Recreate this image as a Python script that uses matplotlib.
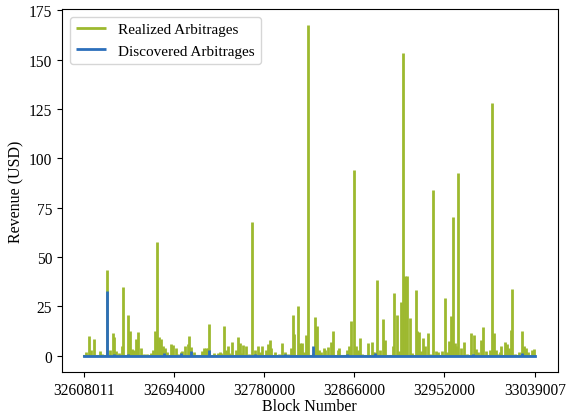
import numpy as np
import matplotlib
matplotlib.use("Agg")
from matplotlib import pyplot as plt

plt.rcParams['font.family'] = ['Liberation Serif', 'DejaVu Serif']

# Realized arbitrage revenue spikes (block, USD)
realized_blocks = [
    32608011, 32609900, 32612760, 32614660, 32617500, 32623200, 32625100, 32629560,
    32632030, 32635260, 32636490, 32638100, 32640570, 32643800, 32645030, 32649500,
    32651960, 32653290, 32655760, 32657090, 32659560, 32662120, 32665250, 32668100,
    32671330, 32673510, 32675410, 32677020, 32678920, 32680820, 32683290, 32685190,
    32686520, 32690600, 32692780, 32695630, 32697250, 32700090, 32701710, 32703890,
    32707020, 32708350, 32710250, 32712430, 32720030, 32722210, 32724490, 32726010,
    32727340, 32731700, 32735220, 32737400, 32739010, 32741860, 32743480, 32745380,
    32746610, 32749170, 32752590, 32754490, 32756390, 32758000, 32759900, 32762750,
    32765310, 32768440, 32771010, 32773850, 32775750, 32777940, 32781730, 32783630,
    32785250, 32786760, 32789990, 32793790, 32796640, 32799480, 32802620, 32805750,
    32807080, 32808310, 32812110, 32814290, 32815910, 32817520, 32819700, 32821890,
    32826350, 32828530, 32830150, 32832050, 32834610, 32836790, 32838410, 32840590,
    32844100, 32845620, 32850370, 32851700, 32858910, 32860530, 32863090, 32865560,
    32867830, 32870020, 32871630, 32873810, 32878850, 32882640, 32884260, 32886160,
    32888060, 32890240, 32893470, 32895650, 32902580, 32904190, 32906380, 32908280,
    32910840, 32913030, 32914640, 32916250, 32919100, 32921000, 32924800, 32926320,
    32927930, 32929830, 32932010, 32933630, 32936190, 32938370, 32941220, 32943780,
    32946250, 32950050, 32952610, 32954510, 32956120, 32958310, 32960490, 32962100,
    32963720, 32965620, 32967800, 32970930, 32973490, 32977290, 32980420, 32982700,
    32984600, 32987070, 32988970, 32992190, 32995610, 32997890, 32999410, 33001310,
    33003590, 33005110, 33006720, 33009850, 33012130, 33013650, 33015550, 33017160,
    33019340, 33023810, 33025990, 33028270, 33029790, 33032060, 33035860, 33037380,
    33039007]
realized_rev = [
    0, 1.7, 9.8, 3.0, 8.5, 2.2, 1.0, 43.3,
    2.7, 11.5, 9.5, 2.5, 1.4, 5.0, 34.5, 20.6,
    12.2, 3.4, 2.7, 8.5, 12.0, 3.9, 1.0, 1.0,
    1.4, 3.0, 12.4, 57.5, 9.5, 8.5, 5.0, 4.0,
    2.0, 5.9, 5.2, 3.6, 1.0, 2.0, 2.2, 4.6,
    6.0, 9.8, 4.2, 1.7, 2.5, 4.0, 3.7, 4.0,
    16.2, 1.4, 1.4, 1.9, 1.4, 14.9, 2.7, 4.7,
    1.4, 6.8, 3.0, 9.5, 6.1, 1.4, 5.4, 5.0,
    1.0, 67.7, 3.0, 4.7, 1.7, 4.7, 3.0, 5.6,
    7.8, 3.9, 1.7, 1.0, 6.1, 1.7, 1.0, 3.9,
    20.6, 11.0, 25.0, 6.4, 6.4, 1.7, 10.2, 167.3,
    1.4, 19.6, 14.9, 3.0, 1.7, 3.7, 3.0, 4.4,
    7.1, 12.4, 2.7, 4.0, 3.0, 4.7, 17.4, 94.0,
    4.7, 3.0, 9.0, 1.0, 6.4, 6.8, 1.7, 2.0,
    38.2, 3.0, 18.6, 7.8, 4.7, 31.5, 20.5, 2.2,
    27.0, 153.4, 40.3, 40.3, 19.0, 1.4, 33.0, 12.4,
    11.8, 2.2, 8.8, 4.7, 11.2, 1.0, 84.0, 2.2,
    2.0, 2.2, 29.1, 1.7, 7.4, 20.0, 70.0, 6.1,
    5.0, 92.5, 3.7, 6.8, 1.0, 11.5, 10.2, 3.4,
    2.0, 7.8, 14.6, 2.4, 2.7, 127.8, 11.2, 2.7,
    1.0, 2.0, 5.0, 6.8, 5.8, 3.7, 12.9, 33.8,
    1.0, 1.7, 12.2, 4.6, 3.7, 1.7, 2.7, 3.4,
    0]

# Discovered arbitrage revenue spikes (block, USD)
discovered_blocks = [
    32608011, 32629560, 32636490, 32649500, 32684240, 32700090, 32710250, 32727340,
    32771010, 32799480, 32826350, 32858910, 32886160, 32979190, 33025990, 33039007]
discovered_rev = [
    0, 32.7, 0.7, 1.0, 1.4, 1.4, 2.5, 3.0,
    1.0, 1.0, 4.6, 1.0, 1.4, 1.0, 1.4, 0]

green = '#9db92f'
blue = '#2c6fbb'

fig, ax = plt.subplots(figsize=(5.68, 4.14), dpi=100)
fig.subplots_adjust(left=0.109, right=0.982, bottom=0.099, top=0.976)

rb = np.array(realized_blocks)
rr = np.array(realized_rev)
db = np.array(discovered_blocks)
dr = np.array(discovered_rev)

# every spike rises from the zero baseline
ax.vlines(rb, 0, rr, color=green, linewidth=2.0, label='Realized Arbitrages')
ax.plot([rb.min(), rb.max()], [0, 0], color=green, linewidth=1.5)
ax.vlines(db, 0, dr, color=blue, linewidth=2.0, label='Discovered Arbitrages')
ax.plot([db.min(), db.max()], [0, 0], color=blue, linewidth=2.0)

ax.set_xticks([rb.min(), 32694000, 32780000, 32866000, 32952000, rb.max()])
ax.set_xticklabels([str(rb.min()), '32694000', '32780000', '32866000', '32952000', str(rb.max())])
ax.set_yticks(np.arange(0, 176, 25))
ax.tick_params(labelsize=11.2)
ax.set_xlabel('Block Number', fontsize=11.5, labelpad=0.5)
ax.set_ylabel('Revenue (USD)', fontsize=11.5, labelpad=3)
ax.margins(x=0.05, y=0.05)
ax.legend(loc='upper left', fontsize=11)

plt.savefig('out.png')
